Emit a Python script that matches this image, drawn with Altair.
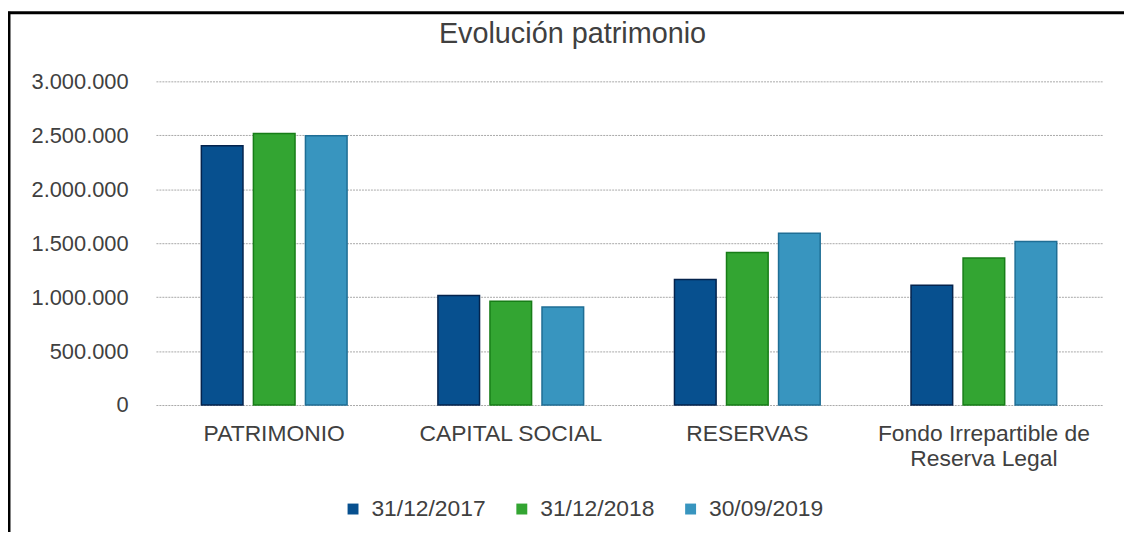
import altair as alt
import pandas as pd

# ---- data ----
categories = ["PATRIMONIO", "CAPITAL SOCIAL", "RESERVAS", "Fondo Irrepartible de Reserva Legal"]
series = ["31/12/2017", "31/12/2018", "30/09/2019"]
values_2017 = [2403000, 1016000, 1163000, 1110000]
values_2018 = [2516000, 963000, 1414000, 1362000]
values_2019 = [2495000, 908000, 1592000, 1515000]
y_ticks = [0, 500000, 1000000, 1500000, 2000000, 2500000, 3000000]

fill_colors = ["#07508f", "#33a532", "#3895bf"]
edge_colors = ["#04234d", "#177d17", "#1f6e95"]

rows = []
for s, vals in zip(series, [values_2017, values_2018, values_2019]):
    for c, v in zip(categories, vals):
        rows.append({"categoria": c, "serie": s, "valor": v})
df = pd.DataFrame(rows)

FONT = "Liberation Sans"
TXT = "#404040"

bars = alt.Chart(df).mark_bar(strokeWidth=1.5).encode(
    x=alt.X(
        "categoria:N",
        sort=categories,
        title=None,
        scale=alt.Scale(paddingInner=0.384, paddingOuter=0.192),
        axis=alt.Axis(
            labelAngle=0,
            domain=False,
            ticks=False,
            labelFont=FONT,
            labelFontSize=23,
            labelColor=TXT,
            labelPadding=18,
            labelLineHeight=25,
            labelBaseline="top",
            labelLimit=400,
            labelExpr="datum.label == 'Fondo Irrepartible de Reserva Legal' ? ['Fondo Irrepartible de', 'Reserva Legal'] : datum.label",
        ),
    ),
    xOffset=alt.XOffset("serie:N", sort=series, scale=alt.Scale(paddingInner=0.2, paddingOuter=0)),
    y=alt.Y(
        "valor:Q",
        title=None,
        scale=alt.Scale(domain=[0, 3000000], nice=False),
        axis=alt.Axis(
            values=y_ticks,
            labelExpr="join(split(format(datum.value, ','), ','), '.')",
            domain=False,
            ticks=False,
            grid=True,
            gridColor="#a8a8a8",
            gridDash=[2, 1],
            gridWidth=1,
            labelFont=FONT,
            labelFontSize=22,
            labelColor=TXT,
            labelPadding=28,
        ),
    ),
    color=alt.Color(
        "serie:N",
        sort=series,
        scale=alt.Scale(domain=series, range=fill_colors),
        legend=alt.Legend(
            title=None,
            orient="none",
            direction="horizontal",
            legendX=187,
            legendY=419,
            symbolType="square",
            symbolSize=121,
            symbolStrokeWidth=0,
            labelFont=FONT,
            labelFontSize=23,
            labelColor=TXT,
            labelOffset=7,
            columnPadding=24,
        ),
    ),
    stroke=alt.Stroke(
        "serie:N",
        sort=series,
        scale=alt.Scale(domain=series, range=edge_colors),
        legend=None,
    ),
)

frame_df = pd.DataFrame({"k": [1]})
top_rule = alt.Chart(frame_df).mark_rule(color="#000000", strokeWidth=3).encode(
    x=alt.value(-150), x2=alt.value(980), y=alt.value(-69)
)
left_rule = alt.Chart(frame_df).mark_rule(color="#000000", strokeWidth=3).encode(
    x=alt.value(-148), y=alt.value(-70), y2=alt.value(465)
)

chart = alt.layer(bars, top_rule, left_rule).properties(
    width=953,
    height=326,
    autosize=alt.AutoSizeParams(type="none"),
    padding={"left": 149, "top": 72, "right": 22, "bottom": 126},
    title=alt.TitleParams(
        "Evolución patrimonio",
        font=FONT,
        fontSize=29,
        fontWeight="normal",
        color=TXT,
        anchor="middle",
        baseline="alphabetic",
        dx=-57,
        dy=62,
        offset=0,
    ),
).configure_view(stroke=None)

chart.save("out.html", embed_options={"renderer": "svg", "actions": False})
